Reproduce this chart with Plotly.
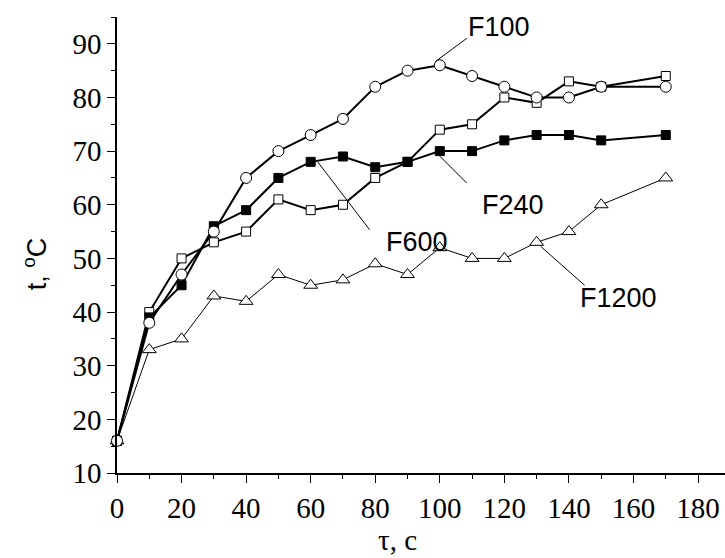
import plotly.graph_objects as go

tau = [0, 10, 20, 30, 40, 50, 60, 70, 80, 90, 100, 110, 120, 130, 140, 150, 170]
F100 = [16, 38, 47, 55, 65, 70, 73, 76, 82, 85, 86, 84, 82, 80, 80, 82, 82]
F240 = [16, 39, 45, 56, 59, 65, 68, 69, 67, 68, 70, 70, 72, 73, 73, 72, 73]
F600 = [16, 40, 50, 53, 55, 61, 59, 60, 65, 68, 74, 75, 80, 79, 83, 82, 84]
F1200 = [16, 33, 35, 43, 42, 47, 45, 46, 49, 47, 52, 50, 50, 53, 55, 60, 65]

x_ticks = list(range(0, 181, 20))
y_ticks = list(range(10, 91, 10))

fig = go.Figure()

def add(y, symbol, size, lw, fill="white"):
    fig.add_trace(go.Scatter(
        x=tau, y=y, mode="lines+markers",
        line=dict(color="black", width=lw),
        marker=dict(symbol=symbol, size=size, color=fill,
                    line=dict(color="black", width=1)),
        showlegend=False, cliponaxis=False))

add(F1200, "triangle-up", 12, 1)
add(F600, "square", 9, 2)
add(F240, "square", 9, 2, fill="black")
add(F100, "circle", 11, 2)

ann_font = dict(family="Liberation Sans, Arial, sans-serif", size=27, color="black")

labels = [
    # text, series, index, label shift (dx, dy), leader start/end offsets (px, y up)
    ("F100", F100, 10, (59, 38), (-4, 4, 27, 27)),
    ("F240", F240, 10, (73, -54), (0, -5, 27, -32)),
    ("F600", F240, 6, (106, -80), (7, 0, 59, -68)),
    ("F1200", F1200, 13, (82, -56), (4, -4, 48, -43)),
]
for text, ser, i, (dx, dy), (sx, sy, ex, ey) in labels:
    fig.add_shape(type="line", xref="x", yref="y",
                  xsizemode="pixel", ysizemode="pixel",
                  xanchor=tau[i], yanchor=ser[i],
                  x0=sx, y0=sy, x1=ex, y1=ey,
                  line=dict(color="black", width=1))
    fig.add_annotation(x=tau[i], y=ser[i], text=text, showarrow=False,
                       xshift=dx, yshift=dy, font=ann_font)

serif = "Times New Roman, Liberation Serif, DejaVu Serif, serif"
tick_font = dict(family=serif, size=29, color="black")

axis_common = dict(ticks="outside", ticklen=8, tickwidth=1.3, tickcolor="black",
                   showline=True, linecolor="black", linewidth=1.5,
                   showgrid=False, zeroline=False, tickfont=tick_font)

fig.update_layout(
    font=dict(family=serif, size=29, color="black"),
    xaxis=dict(range=[0, 188.35], tickvals=x_ticks,
               minor=dict(ticks="outside", ticklen=4, dtick=10, tick0=0,
                          tickcolor="black", tickwidth=1.3),
               **axis_common),
    yaxis=dict(range=[10, 95], tickvals=y_ticks,
               minor=dict(ticks="outside", ticklen=4, dtick=5, tick0=10,
                          tickcolor="black", tickwidth=1.3),
               **axis_common),
)

fig.add_annotation(xref="paper", yref="paper", x=0.461, y=-0.148,
                   text="τ, c", showarrow=False, yanchor="middle",
                   font=dict(family=serif, size=29, color="black"))
fig.add_annotation(xref="paper", yref="paper", x=-0.135, y=0.46,
                   text="t, <sup>o</sup>C", showarrow=False, textangle=-90,
                   xanchor="center", yanchor="middle",
                   font=dict(family="Liberation Sans, Arial, sans-serif", size=27, color="black"))

fig.update_layout(width=725, height=558,
                  margin=dict(l=117, r=0, t=17, b=85),
                  paper_bgcolor="white", plot_bgcolor="white")

fig.write_html("out.html")
